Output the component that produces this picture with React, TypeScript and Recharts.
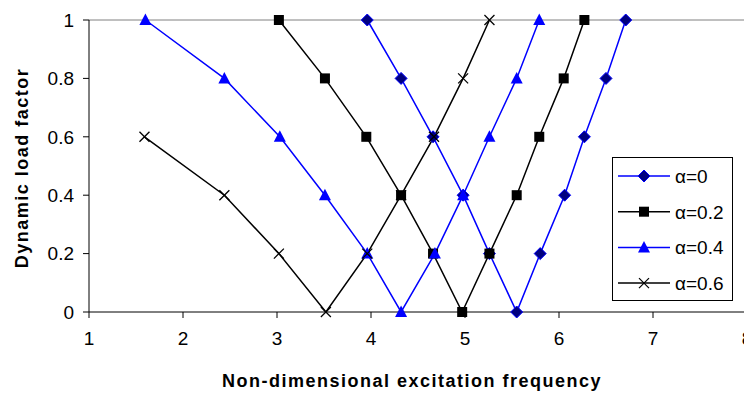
import React from "react"
import { LineChart, Line, XAxis, YAxis, ReferenceLine, Label } from "recharts"

// excitation frequencies, one list per damping ratio
const alpha0X = [3.96, 4.32, 4.66, 4.98, 5.26, 5.55, 5.8, 6.06, 6.27, 6.5, 6.71]
const alpha0Y = [1, 0.8, 0.6, 0.4, 0.2, 0, 0.2, 0.4, 0.6, 0.8, 1]
const alpha02X = [3.02, 3.51, 3.95, 4.32, 4.66, 4.97, 5.26, 5.55, 5.79, 6.05, 6.27]
const alpha02Y = [1, 0.8, 0.6, 0.4, 0.2, 0, 0.2, 0.4, 0.6, 0.8, 1]
const alpha04X = [1.6, 2.44, 3.03, 3.51, 3.96, 4.32, 4.68, 4.98, 5.26, 5.55, 5.79]
const alpha04Y = [1, 0.8, 0.6, 0.4, 0.2, 0, 0.2, 0.4, 0.6, 0.8, 1]
const alpha06X = [1.59, 2.44, 3.02, 3.52, 3.96, 4.32, 4.67, 4.98, 5.26]
const alpha06Y = [0.6, 0.4, 0.2, 0, 0.2, 0.4, 0.6, 0.8, 1]

const seriesNames = ["α=0", "α=0.2", "α=0.4", "α=0.6"]
const xTicks = [1, 2, 3, 4, 5, 6, 7, 8]
const yTicks = [0, 0.2, 0.4, 0.6, 0.8, 1]

const toPoints = (xs: number[], ys: number[]) => xs.map((x, i) => ({ x, y: ys[i] }))

const BLUE = "#0000ff"
const FONT = "'Liberation Sans', Arial, sans-serif"

const Diamond = ({ cx, cy }: { cx: number; cy: number }) => (
  <polygon
    points={`${cx},${cy - 6} ${cx + 6},${cy} ${cx},${cy + 6} ${cx - 6},${cy}`}
    fill="#000080"
    stroke={BLUE}
    strokeWidth={1}
  />
)
const Square = ({ cx, cy }: { cx: number; cy: number }) => (
  <rect x={cx - 5} y={cy - 5} width={10} height={10} fill="#000" />
)
const Triangle = ({ cx, cy }: { cx: number; cy: number }) => (
  <polygon points={`${cx},${cy - 6.5} ${cx + 6},${cy + 5} ${cx - 6},${cy + 5}`} fill={BLUE} />
)
const Cross = ({ cx, cy }: { cx: number; cy: number }) => (
  <g stroke="#000" strokeWidth={1.3}>
    <line x1={cx - 5} y1={cy - 5} x2={cx + 5} y2={cy + 5} />
    <line x1={cx - 5} y1={cy + 5} x2={cx + 5} y2={cy - 5} />
  </g>
)

const markers = [Diamond, Square, Triangle, Cross]
const colors = [BLUE, "#000", BLUE, "#000"]

const dotFor = (i: number) => (p: any) => {
  const M = markers[i]
  return <M key={`d${i}-${p.index}`} cx={p.cx} cy={p.cy} />
}

const LegendBox = () => (
  <svg width={121} height={144} style={{ display: "block" }}>
    <rect x={0.5} y={0.5} width={120} height={143} fill="#fff" stroke="#000" strokeWidth={1} />
    {seriesNames.map((name, i) => {
      const y = 19 + i * 35.7
      const M = markers[i]
      return (
        <g key={name}>
          <line x1={6} x2={58} y1={y} y2={y} stroke={colors[i]} strokeWidth={1.5} />
          <M cx={32} cy={y} />
          <text x={63} y={y + 7} fontSize={19} fontFamily={FONT} fill="#000">
            {name}
          </text>
        </g>
      )
    })}
  </svg>
)

export default function App() {
  const series = [
    toPoints(alpha0X, alpha0Y),
    toPoints(alpha02X, alpha02Y),
    toPoints(alpha04X, alpha04Y),
    toPoints(alpha06X, alpha06Y),
  ]
  return (
    <div
      style={{
        position: "absolute",
        left: 0,
        top: 0,
        width: 744,
        height: 394,
        overflow: "hidden",
        background: "#fff",
      }}
    >
      <LineChart width={760} height={394} margin={{ top: 20, right: 13, bottom: 52, left: 0 }}>
        <XAxis
          dataKey="x"
          type="number"
          domain={[1, 8]}
          ticks={xTicks}
          interval={0}
          allowDataOverflow
          stroke="#000"
          tickSize={6}
          tickMargin={14}
          height={30}
          tick={{ fill: "#000", fontSize: 19, fontFamily: FONT }}
        >
          <Label
            content={({ viewBox }: any) => (
              <text
                x={viewBox.x + viewBox.width / 2 - 6}
                y={387}
                textAnchor="middle"
                fontSize={18}
                fontWeight="bold"
                letterSpacing={1.5}
                fontFamily={FONT}
                fill="#000"
              >
                Non-dimensional excitation frequency
              </text>
            )}
          />
        </XAxis>
        <YAxis
          type="number"
          domain={[0, 1]}
          ticks={yTicks}
          interval={0}
          width={89}
          stroke="#000"
          tickSize={6}
          tickMargin={9}
          tick={{ fill: "#000", fontSize: 19, fontFamily: FONT }}
        >
          <Label
            content={({ viewBox }: any) => {
              const cy = viewBox.y + viewBox.height / 2 + 2
              return (
                <text
                  x={28}
                  y={cy}
                  transform={`rotate(-90 28 ${cy})`}
                  textAnchor="middle"
                  fontSize={18}
                  fontWeight="bold"
                  letterSpacing={1.5}
                  fontFamily={FONT}
                  fill="#000"
                >
                  Dynamic load factor
                </text>
              )
            }}
          />
        </YAxis>
        <ReferenceLine y={1} stroke="#808080" strokeWidth={1} />
        {series.map((data, i) => (
          <Line
            key={seriesNames[i]}
            data={data}
            dataKey="y"
            name={seriesNames[i]}
            type="linear"
            stroke={colors[i]}
            strokeWidth={1.5}
            dot={dotFor(i)}
            activeDot={false}
            isAnimationActive={false}
          />
        ))}
      </LineChart>
      <div style={{ position: "absolute", left: 612, top: 157 }}>
        <LegendBox />
      </div>
    </div>
  )
}
